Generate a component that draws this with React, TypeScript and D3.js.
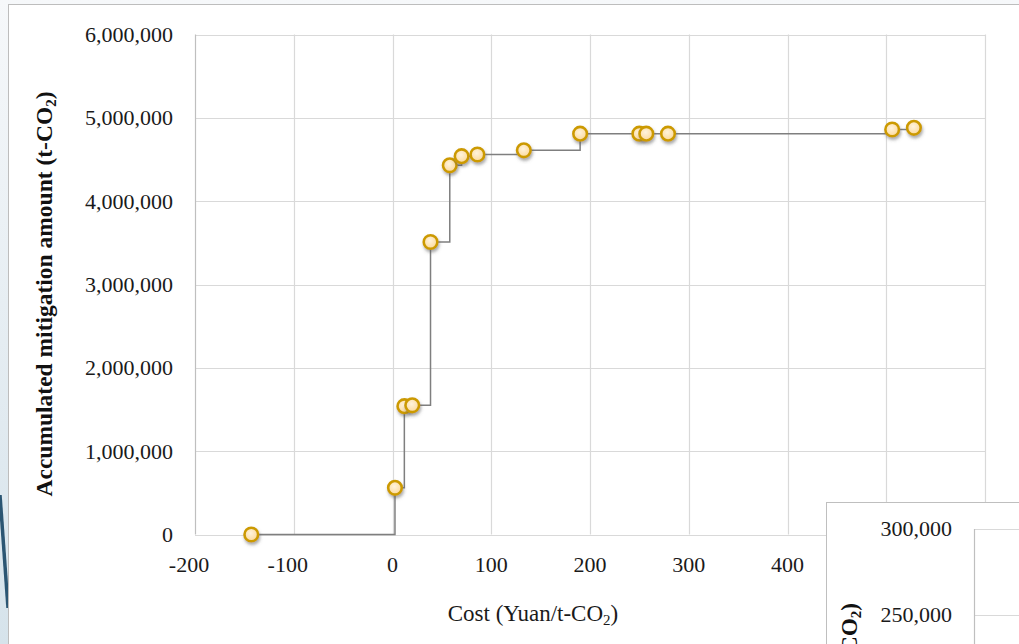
import React, { useEffect, useRef } from 'react';
import * as d3 from 'd3';

// cost (Yuan/t-CO2) and accumulated mitigation (t-CO2)
const costs = [-143, 2.5, 12, 20, 38.5, 58, 70, 86, 133, 190, 250, 257, 279, 506, 528];
const accumulated = [0, 560000, 1540000, 1550000, 3510000, 4430000, 4540000, 4560000, 4610000, 4810000, 4810000, 4810000, 4810000, 4860000, 4880000];
const xTicks = [-200, -100, 0, 100, 200, 300, 400, 500, 600];
const yTicks = [0, 1000000, 2000000, 3000000, 4000000, 5000000, 6000000];
// second chart peeking out at the bottom right
const insetTicks = ['300,000', '250,000'];

const App = () => {
  const ref = useRef<SVGSVGElement | null>(null);

  useEffect(() => {
    const svg = d3.select(ref.current);
    svg.selectAll('*').remove();

    const W = 1019, H = 644;
    const serif = '"Liberation Serif", "Times New Roman", serif';
    const x = d3.scaleLinear().domain([-200, 600]).range([195, 985]);
    const y = d3.scaleLinear().domain([0, 6000000]).range([534.5, 34.5]);
    const fmt = d3.format(',');

    const defs = svg.append('defs');
    const bg = defs.append('linearGradient').attr('id', 'slide-bg')
      .attr('x1', '0%').attr('x2', '0%').attr('y1', '0%').attr('y2', '100%');
    bg.append('stop').attr('offset', '0%').attr('stop-color', '#f6f8fa');
    bg.append('stop').attr('offset', '100%').attr('stop-color', '#d6e3eb');

    const mk = defs.append('radialGradient').attr('id', 'marker-fill')
      .attr('cx', '45%').attr('cy', '40%').attr('r', '60%');
    mk.append('stop').attr('offset', '0%').attr('stop-color', '#fff3dc');
    mk.append('stop').attr('offset', '100%').attr('stop-color', '#fcd99a');

    const sh = defs.append('filter').attr('id', 'shadow')
      .attr('x', '-50%').attr('y', '-50%').attr('width', '200%').attr('height', '200%');
    sh.append('feDropShadow').attr('dx', 1).attr('dy', 2.5).attr('stdDeviation', 1.8)
      .attr('flood-color', '#555').attr('flood-opacity', 0.5);

    // slide background + decoration on the left
    svg.append('rect').attr('width', W).attr('height', H).attr('fill', 'url(#slide-bg)');
    svg.append('line')
      .attr('x1', 0).attr('y1', 495).attr('x2', 8).attr('y2', 608)
      .attr('stroke', '#2c5673').attr('stroke-width', 3.5);

    // chart box
    svg.append('rect')
      .attr('x', 8.5).attr('y', 4.5).attr('width', W).attr('height', H)
      .attr('fill', '#fff').attr('stroke', '#bdbdbd');

    // gridlines
    svg.append('g').selectAll('line').data(yTicks).enter().append('line')
      .attr('x1', x(-200)).attr('x2', x(600))
      .attr('y1', d => Math.round(y(d)) + 0.5).attr('y2', d => Math.round(y(d)) + 0.5)
      .attr('stroke', '#d9d9d9').attr('stroke-width', 1.2);
    svg.append('g').selectAll('line').data(xTicks.slice(1)).enter().append('line')
      .attr('x1', d => Math.round(x(d)) + 0.5).attr('x2', d => Math.round(x(d)) + 0.5)
      .attr('y1', y(6000000)).attr('y2', y(0))
      .attr('stroke', '#d9d9d9').attr('stroke-width', 1.2);
    svg.append('line')
      .attr('x1', x(-200) + 0.5).attr('x2', x(-200) + 0.5)
      .attr('y1', y(6000000)).attr('y2', y(0))
      .attr('stroke', '#bfbfbf').attr('stroke-width', 1.2);

    // tick labels
    svg.append('g').selectAll('text').data(yTicks).enter().append('text')
      .attr('x', 173).attr('y', d => y(d) + 7.5)
      .attr('text-anchor', 'end')
      .style('font-family', serif).style('font-size', '22px').attr('fill', '#1a1a1a')
      .text(d => fmt(d));
    svg.append('g').selectAll('text').data(xTicks).enter().append('text')
      .attr('x', d => x(d) - (d < 0 ? 6 : 0)).attr('y', 572)
      .attr('text-anchor', 'middle')
      .style('font-family', serif).style('font-size', '22px').attr('fill', '#1a1a1a')
      .text(d => d);

    // axis titles
    const xt = svg.append('text')
      .attr('x', 533).attr('y', 621).attr('text-anchor', 'middle')
      .style('font-family', serif).style('font-size', '23px').attr('fill', '#1a1a1a');
    xt.append('tspan').text('Cost (Yuan/t-CO');
    xt.append('tspan').attr('dy', 4).style('font-size', '15px').text('2');
    xt.append('tspan').attr('dy', -4).text(')');

    const yt = svg.append('text')
      .attr('transform', 'translate(52,294) rotate(-90)').attr('text-anchor', 'middle')
      .style('font-family', serif).style('font-size', '23.5px').style('font-weight', 'bold').attr('fill', '#111');
    yt.append('tspan').text('Accumulated mitigation amount (t-CO');
    yt.append('tspan').attr('dy', 4).style('font-size', '15px').text('2');
    yt.append('tspan').attr('dy', -4).text(')');

    // step curve
    const pts = costs.map((c, i) => [c, accumulated[i]] as [number, number]);
    const line = d3.line<[number, number]>()
      .x(d => x(d[0])).y(d => y(d[1]))
      .curve(d3.curveStepAfter);
    svg.append('path').attr('d', line(pts))
      .attr('fill', 'none').attr('stroke', '#7f7f7f').attr('stroke-width', 1.5);

    svg.append('g').selectAll('circle').data(pts).enter().append('circle')
      .attr('cx', d => x(d[0])).attr('cy', d => y(d[1])).attr('r', 6.8)
      .attr('fill', 'url(#marker-fill)').attr('stroke', '#cc9a06').attr('stroke-width', 2.6)
      .attr('filter', 'url(#shadow)');

    // overlapping second chart
    const inset = svg.append('g');
    inset.append('rect')
      .attr('x', 826.5).attr('y', 502.5).attr('width', 300).attr('height', 200)
      .attr('fill', '#fff').attr('stroke', '#bfbfbf');
    inset.append('line').attr('x1', 974).attr('x2', W).attr('y1', 529.5).attr('y2', 529.5)
      .attr('stroke', '#d9d9d9').attr('stroke-width', 1.2);
    inset.append('line').attr('x1', 974).attr('x2', W).attr('y1', 615.5).attr('y2', 615.5)
      .attr('stroke', '#d9d9d9').attr('stroke-width', 1.2);
    inset.append('line').attr('x1', 974.5).attr('x2', 974.5).attr('y1', 529).attr('y2', H)
      .attr('stroke', '#bfbfbf').attr('stroke-width', 1.2);
    inset.selectAll('text.tick').data(insetTicks).enter().append('text')
      .attr('class', 'tick')
      .attr('x', 952).attr('y', (d, i) => 536 + i * 86)
      .attr('text-anchor', 'end')
      .style('font-family', serif).style('font-size', '22px').attr('fill', '#1a1a1a')
      .text(d => d);
    const it = inset.append('text')
      .attr('transform', 'translate(857,603) rotate(-90)').attr('text-anchor', 'end')
      .style('font-family', serif).style('font-size', '23px').style('font-weight', 'bold').attr('fill', '#111');
    it.append('tspan').text('Accumulated mitigation amount (t-CO');
    it.append('tspan').attr('dy', 4).style('font-size', '15px').text('2');
    it.append('tspan').attr('dy', -4).text(')');
  }, []);

  return (
    <svg ref={ref} width={1019} height={644}
      style={{ position: 'absolute', left: 0, top: 0, display: 'block' }} />
  );
};

export default App;
